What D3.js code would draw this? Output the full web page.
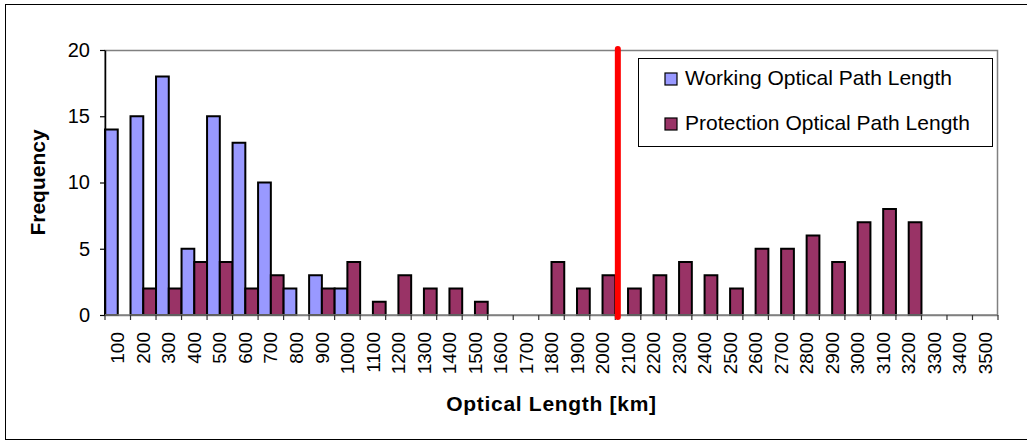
<!DOCTYPE html>
<html>
<head>
<meta charset="utf-8">
<script src="https://cdn.jsdelivr.net/npm/d3@7/dist/d3.min.js"></script>
<style>
  html, body { margin: 0; padding: 0; background: #fff; }
  svg { display: block; font-family: "Liberation Sans", Arial, sans-serif; }
</style>
</head>
<body>
<svg id="chart" width="1027" height="441"></svg>
<script>
// Optical path length bins (km) and path counts per bin
const categories = [100,200,300,400,500,600,700,800,900,1000,1100,1200,1300,1400,1500,1600,1700,1800,1900,2000,2100,2200,2300,2400,2500,2600,2700,2800,2900,3000,3100,3200,3300,3400,3500];
const working    = [14,15,18,5,15,13,10,2,3,2,0,0,0,0,0,0,0,0,0,0,0,0,0,0,0,0,0,0,0,0,0,0,0,0,0];
const protection = [0,2,2,4,4,2,3,0,2,4,1,3,2,2,1,0,0,4,2,3,2,3,4,3,2,5,5,6,4,7,8,7,0,0,0];
const seriesNames = ["Working Optical Path Length", "Protection Optical Path Length"];
const yTicks = [0,5,10,15,20];
const reachLimitKm = 2060;

const colors = ["#9999FF", "#993366"];
const font = '"Liberation Sans", Arial, sans-serif';

const svg = d3.select("#chart");
const plotLeft = 105, plotRight = 998, plotTop = 50, plotBottom = 315;

// Outer chart frame
svg.append("rect")
  .attr("x", 5.5).attr("y", 4.5).attr("width", 1030).attr("height", 435)
  .attr("fill", "#fff").attr("stroke", "#000").attr("stroke-width", 1);

const x = d3.scaleBand().domain(categories).range([plotLeft, plotRight]).padding(0);
const xSub = d3.scaleBand().domain([0, 1]).range([0, x.bandwidth()]).padding(0);
const y = d3.scaleLinear().domain([0, 20]).range([plotBottom, plotTop]);
const xKm = d3.scaleLinear().domain([categories[0] - 50, categories[categories.length - 1] + 50]).range([plotLeft, plotRight]);

// Plot area frame
svg.append("rect")
  .attr("x", plotLeft).attr("y", plotTop + 0.5).attr("width", plotRight - plotLeft - 0.5).attr("height", plotBottom - plotTop)
  .attr("fill", "#fff").attr("stroke", "#808080").attr("stroke-width", 1.5);

// Bars
const rows = categories.map((c, i) => ({ c, vals: [working[i], protection[i]] }));
const groups = svg.append("g").selectAll("g").data(rows).join("g")
  .attr("transform", d => `translate(${x(d.c)},0)`);
groups.selectAll("rect")
  .data(d => d.vals.map((v, k) => ({ v, k })).filter(e => e.v > 0))
  .join("rect")
  .attr("x", e => xSub(e.k))
  .attr("y", e => y(e.v))
  .attr("width", xSub.bandwidth())
  .attr("height", e => y(0) - y(e.v))
  .attr("fill", e => colors[e.k])
  .attr("stroke", "#000")
  .attr("stroke-width", 2);

// Y axis
const yAxis = svg.append("g")
  .attr("transform", `translate(${plotLeft},0)`)
  .call(d3.axisLeft(y).tickValues(yTicks).tickSize(5).tickPadding(10).tickSizeOuter(0));
yAxis.select(".domain").attr("stroke", "#000").attr("stroke-width", 1.5);
yAxis.selectAll(".tick line").attr("stroke", "#000").attr("stroke-width", 1.2);
yAxis.selectAll("text").attr("font-size", "20px").attr("font-family", font).attr("fill", "#000");

// X axis: tick marks at bin edges, labels at bin centres
const xAxis = svg.append("g").attr("transform", `translate(0,${plotBottom})`);
xAxis.append("line").attr("x1", plotLeft).attr("x2", plotRight).attr("y1", 0).attr("y2", 0)
  .attr("stroke", "#808080").attr("stroke-width", 1.5);
const edges = categories.map(c => x(c)).concat([x(categories[categories.length - 1]) + x.bandwidth()]);
xAxis.selectAll("line.tick").data(edges).join("line").attr("class", "tick")
  .attr("x1", d => d).attr("x2", d => d).attr("y1", 0).attr("y2", 5)
  .attr("stroke", "#333").attr("stroke-width", 1.2);
xAxis.selectAll("text").data(categories).join("text")
  .attr("transform", d => `translate(${x(d) + x.bandwidth() / 2},17) rotate(-90)`)
  .attr("text-anchor", "end").attr("dy", "0.35em")
  .attr("font-size", "19px").attr("font-family", font).attr("fill", "#000")
  .text(d => d);

// Axis titles
svg.append("text")
  .attr("transform", `translate(38,${(plotTop + plotBottom) / 2}) rotate(-90)`)
  .attr("text-anchor", "middle").attr("dy", "0.35em")
  .attr("font-size", "21px").attr("font-weight", "bold").attr("font-family", font)
  .text("Frequency");
svg.append("text")
  .attr("x", (plotLeft + plotRight) / 2).attr("y", 411)
  .attr("text-anchor", "middle")
  .attr("font-size", "21px").attr("font-weight", "bold").attr("font-family", font)
  .attr("letter-spacing", "0.7px")
  .text("Optical Length [km]");

// Reach limit marker
svg.append("line")
  .attr("x1", xKm(reachLimitKm)).attr("x2", xKm(reachLimitKm))
  .attr("y1", y(20) - 1).attr("y2", y(0) + 2)
  .attr("stroke", "#FF0000").attr("stroke-width", 6).attr("stroke-linecap", "round");

// Legend
const legend = svg.append("g");
legend.append("rect")
  .attr("x", 638.5).attr("y", 58.5).attr("width", 354).attr("height", 88)
  .attr("fill", "#fff").attr("stroke", "#000").attr("stroke-width", 1);
const items = legend.selectAll("g.item").data(seriesNames).join("g").attr("class", "item")
  .attr("transform", (d, i) => `translate(665,${85 + i * 45})`);
items.append("rect")
  .attr("x", 0).attr("y", -12).attr("width", 12).attr("height", 12)
  .attr("fill", (d, i) => colors[i]).attr("stroke", "#000").attr("stroke-width", 1.2);
items.append("text")
  .attr("x", 20).attr("y", 0)
  .attr("font-size", "21px").attr("font-family", font).attr("fill", "#000")
  .text(d => d);
</script>
</body>
</html>
